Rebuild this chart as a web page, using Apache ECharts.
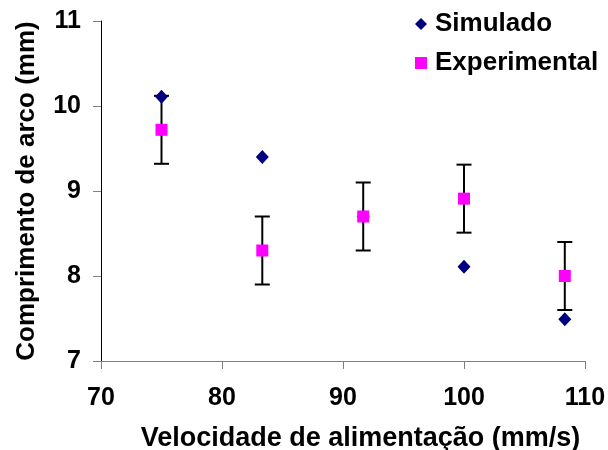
<!DOCTYPE html>
<html>
<head>
<meta charset="utf-8">
<title>Comprimento de arco</title>
<script src="https://cdn.jsdelivr.net/npm/echarts@6/dist/echarts.min.js"></script>
<style>
  html, body { margin: 0; padding: 0; background: #fff; }
  #chart { width: 608px; height: 450px; }
</style>
</head>
<body>
<div id="chart"></div>
<script>
// Feed speed (mm/s) for each test
const velocidade = [75, 83.33, 91.67, 100, 108.33];
// Arc length (mm)
const simulado = [10.11, 9.40, 8.70, 8.11, 7.49];
const experimental = [9.72, 8.30, 8.70, 8.91, 8.00];
const erroExperimental = [0.40, 0.40, 0.40, 0.40, 0.40];
const xTicks = [70, 80, 90, 100, 110];
const yTicks = [7, 8, 9, 10, 11];

const FONT = '"Liberation Sans", Arial, sans-serif';

const simData = velocidade.map((v, i) => [v, simulado[i]]);
const expData = velocidade.map((v, i) => [v, experimental[i]]);
const errData = velocidade.map((v, i) => [v, experimental[i], erroExperimental[i]]);

const chart = echarts.init(document.getElementById('chart'));

chart.setOption({
  animation: false,
  backgroundColor: '#fff',
  grid: { left: 101, right: 23, top: 21, bottom: 89, outerBoundsMode: 'none' },
  legend: {
    orient: 'vertical',
    left: 410,
    top: 6,
    itemWidth: 12,
    itemHeight: 12,
    itemGap: 13,
    data: ['Simulado', 'Experimental'],
    textStyle: {
      fontFamily: FONT, fontWeight: 'bold', fontSize: 26, color: '#000',
      lineHeight: 26, padding: [0, 0, 0, 3]
    }
  },
  xAxis: {
    type: 'value',
    min: xTicks[0],
    max: xTicks[xTicks.length - 1],
    interval: 10,
    name: 'Velocidade de alimentação (mm/s)',
    nameLocation: 'middle',
    nameGap: 64,
    nameTextStyle: { fontFamily: FONT, fontWeight: 'bold', fontSize: 27, color: '#000', padding: [0, 0, 0, 35] },
    axisLine: { onZero: false, lineStyle: { color: '#808080', width: 1 } },
    axisTick: { inside: false, length: 8, lineStyle: { color: '#808080' } },
    axisLabel: { margin: 25, fontFamily: FONT, fontWeight: 'bold', fontSize: 25, color: '#000' },
    splitLine: { show: false }
  },
  yAxis: {
    type: 'value',
    min: yTicks[0],
    max: yTicks[yTicks.length - 1],
    interval: 1,
    name: 'Comprimento de arco (mm)',
    nameLocation: 'middle',
    nameGap: 61,
    nameTextStyle: { fontFamily: FONT, fontWeight: 'bold', fontSize: 26, color: '#000' },
    axisLine: { onZero: false, lineStyle: { color: '#000', width: 1 } },
    axisTick: { inside: false, length: 8, lineStyle: { color: '#808080' } },
    axisLabel: { margin: 20, fontFamily: FONT, fontWeight: 'bold', fontSize: 25, color: '#000' },
    splitLine: { show: false }
  },
  series: [
    {
      name: 'erro',
      type: 'custom',
      data: errData,
      silent: true,
      renderItem: function (params, api) {
        const x = api.value(0), y = api.value(1), e = api.value(2);
        const top = api.coord([x, y + e]);
        const bot = api.coord([x, y - e]);
        const half = 7.5;
        const st = { stroke: '#000', lineWidth: 2 };
        return {
          type: 'group',
          children: [
            { type: 'line', shape: { x1: top[0], y1: top[1], x2: bot[0], y2: bot[1] }, style: st },
            { type: 'line', shape: { x1: top[0] - half, y1: top[1], x2: top[0] + half, y2: top[1] }, style: st },
            { type: 'line', shape: { x1: bot[0] - half, y1: bot[1], x2: bot[0] + half, y2: bot[1] }, style: st }
          ]
        };
      }
    },
    {
      name: 'Simulado',
      type: 'scatter',
      data: simData,
      symbol: 'diamond',
      symbolSize: [13, 14],
      itemStyle: { color: '#000080', opacity: 1 }
    },
    {
      name: 'Experimental',
      type: 'scatter',
      data: expData,
      symbol: 'rect',
      symbolSize: 12,
      itemStyle: { color: '#ff00ff', opacity: 1 }
    }
  ]
});
</script>
</body>
</html>
